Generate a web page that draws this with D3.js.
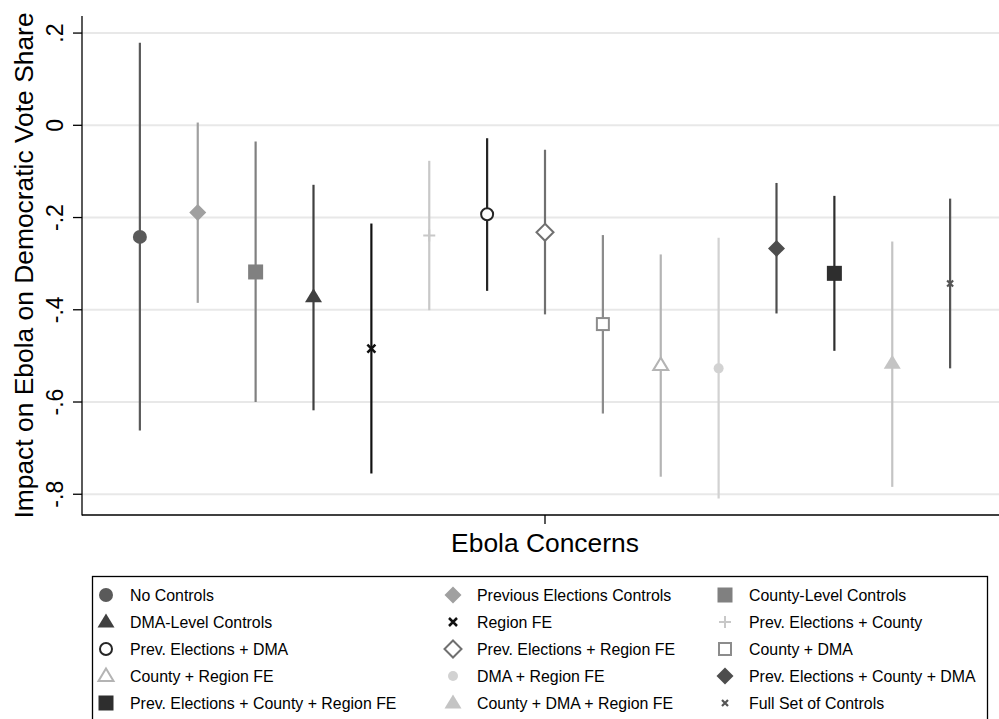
<!DOCTYPE html>
<html>
<head>
<meta charset="utf-8">
<script src="https://cdn.jsdelivr.net/npm/d3@7"></script>
<style>
  body { margin: 0; background: #fff; }
  svg { display: block; font-family: "Liberation Sans", Arial, Helvetica, sans-serif; }
</style>
</head>
<body>
<div id="chart"></div>
<script>
// model specifications, in plotting order
var models = ["No Controls", "Previous Elections Controls", "County-Level Controls",
  "DMA-Level Controls", "Region FE", "Prev. Elections + County",
  "Prev. Elections + DMA", "Prev. Elections + Region FE", "County + DMA",
  "County + Region FE", "DMA + Region FE", "Prev. Elections + County + DMA",
  "Prev. Elections + County + Region FE", "County + DMA + Region FE", "Full Set of Controls"]
// point estimates and 95% CI bounds
var estimates = [-0.242, -0.189, -0.318, -0.372, -0.484, -0.239, -0.193, -0.232,
  -0.431, -0.520, -0.527, -0.267, -0.321, -0.516, -0.343]
var ciLow = [-0.662, -0.385, -0.600, -0.618, -0.755, -0.401, -0.359, -0.410,
  -0.625, -0.762, -0.809, -0.408, -0.489, -0.784, -0.527]
var ciHigh = [0.179, 0.006, -0.035, -0.129, -0.213, -0.077, -0.028, -0.053,
  -0.238, -0.280, -0.244, -0.125, -0.153, -0.252, -0.159]
var yTicks = [0.2, 0, -0.2, -0.4, -0.6, -0.8]
var yTickLabels = [".2", "0", "-.2", "-.4", "-.6", "-.8"]
var xCategory = "Ebola Concerns"

// styling per model
var colors = ["#5a5a5a", "#a0a0a0", "#808080", "#404040", "#111111", "#c8c8c8",
  "#262626", "#707070", "#8c8c8c", "#b4b4b4", "#d2d2d2", "#4d4d4d",
  "#2e2e2e", "#c4c4c4", "#555555"]
var symbols = ["circle", "diamond", "square", "triangle", "x", "plus",
  "circleO", "diamondO", "squareO", "triangleO", "dot", "diamond",
  "square", "triangle", "smallx"]

var width = 999, height = 719
var plot = {left: 82, right: 1008, top: 16, bottom: 515}

var svg = d3.select("#chart").append("svg")
  .attr("width", width)
  .attr("height", height)

var data = models.map(function(m, i) {
  return {name: m, est: estimates[i], lo: ciLow[i], hi: ciHigh[i], color: colors[i], symbol: symbols[i]}
})

var y = d3.scaleLinear().domain([-0.845, 0.237]).range([plot.bottom, plot.top])
var x = d3.scalePoint().domain(models).range([plot.left, plot.right]).padding(1)

// gridlines
svg.append("g").selectAll("line")
  .data(yTicks)
  .enter().append("line")
  .attr("x1", plot.left).attr("x2", width)
  .attr("y1", function(d){ return y(d) }).attr("y2", function(d){ return y(d) })
  .attr("stroke", "#e8e8e8").attr("stroke-width", 2)

// y axis
var yAxis = svg.append("g").attr("transform", "translate(" + plot.left + ",0)")
yAxis.append("line")
  .attr("y1", plot.top).attr("y2", plot.bottom + 0.5)
  .attr("stroke", "#000").attr("stroke-width", 1.3)
yAxis.selectAll(".tick")
  .data(yTicks)
  .enter().append("line")
  .attr("x1", -9).attr("x2", 0)
  .attr("y1", function(d){ return y(d) }).attr("y2", function(d){ return y(d) })
  .attr("stroke", "#000").attr("stroke-width", 1.3)
yAxis.selectAll(".lab")
  .data(yTicks)
  .enter().append("text")
  .attr("transform", function(d){ return "translate(-19," + y(d) + ") rotate(-90)" })
  .attr("text-anchor", "middle")
  .attr("font-size", 23)
  .text(function(d, i){ return yTickLabels[i] })

svg.append("text")
  .attr("transform", "translate(33," + ((plot.top + plot.bottom) / 2) + ") rotate(-90)")
  .attr("text-anchor", "middle")
  .attr("font-size", 26.4)
  .text("Impact on Ebola on Democratic Vote Share")

// x axis
var xMid = (plot.left + plot.right) / 2
svg.append("line")
  .attr("x1", plot.left).attr("x2", width)
  .attr("y1", plot.bottom).attr("y2", plot.bottom)
  .attr("stroke", "#000").attr("stroke-width", 1.3)
svg.append("line")
  .attr("x1", xMid).attr("x2", xMid)
  .attr("y1", plot.bottom).attr("y2", plot.bottom + 9)
  .attr("stroke", "#000").attr("stroke-width", 1.3)
svg.append("text")
  .attr("x", xMid).attr("y", 552)
  .attr("text-anchor", "middle")
  .attr("font-size", 26.4)
  .text(xCategory)

// draws one marker of the given type into g
function marker(g, type, color) {
  var filled = {circle: 1, diamond: 1, square: 1, triangle: 1, dot: 1}
  var p
  if (type == "circle") p = g.append("circle").attr("r", 7)
  else if (type == "dot") p = g.append("circle").attr("r", 5)
  else if (type == "circleO") p = g.append("circle").attr("r", 6)
  else if (type == "diamond") p = g.append("path").attr("d", "M0,-8.5L8.5,0L0,8.5L-8.5,0Z")
  else if (type == "diamondO") p = g.append("path").attr("d", "M0,-8.5L8.5,0L0,8.5L-8.5,0Z")
  else if (type == "square") p = g.append("rect").attr("x", -7.5).attr("y", -7.5).attr("width", 15).attr("height", 15)
  else if (type == "squareO") p = g.append("rect").attr("x", -6).attr("y", -6).attr("width", 12).attr("height", 12)
  else if (type == "triangle") p = g.append("path").attr("d", "M0,-8.5L8.5,5.5L-8.5,5.5Z")
  else if (type == "triangleO") p = g.append("path").attr("d", "M0,-7.5L7.5,5L-7.5,5Z")
  else if (type == "x") p = g.append("path").attr("d", "M-4,-4L4,4M-4,4L4,-4").attr("stroke-width", 2.5)
  else if (type == "smallx") p = g.append("path").attr("d", "M-3,-3L3,3M-3,3L3,-3").attr("stroke-width", 2.2)
  else if (type == "plus") p = g.append("path").attr("d", "M-6,0L6,0M0,-6L0,6").attr("stroke-width", 2)
  if (filled[type]) {
    p.attr("fill", color)
  } else {
    p.attr("fill", type.slice(-1) == "O" ? "#fff" : "none").attr("stroke", color)
    if (type.slice(-1) == "O") p.attr("stroke-width", 2)
  }
}

// confidence intervals
svg.append("g").selectAll("line")
  .data(data)
  .enter().append("line")
  .attr("x1", function(d){ return x(d.name) }).attr("x2", function(d){ return x(d.name) })
  .attr("y1", function(d){ return y(d.lo) }).attr("y2", function(d){ return y(d.hi) })
  .attr("stroke", function(d){ return d.color })
  .attr("stroke-width", 2.2)

// point estimates
svg.append("g").selectAll("g")
  .data(data)
  .enter().append("g")
  .attr("transform", function(d){ return "translate(" + x(d.name) + "," + y(d.est) + ")" })
  .each(function(d){ marker(d3.select(this), d.symbol, d.color) })

// legend
var legend = svg.append("g")
legend.append("rect")
  .attr("x", 92.5).attr("y", 576.5)
  .attr("width", 895).attr("height", 160)
  .attr("fill", "#fff").attr("stroke", "#000").attr("stroke-width", 1.3)

var colX = [106, 453, 725]
var rowY = [595, 622, 649, 676, 703]
var items = legend.selectAll(".item")
  .data(data)
  .enter().append("g")
  .attr("class", "item")
  .attr("transform", function(d, i){ return "translate(" + colX[i % 3] + "," + rowY[Math.floor(i / 3)] + ")" })
items.each(function(d){ marker(d3.select(this), d.symbol, d.color) })
items.append("text")
  .attr("x", 24).attr("y", 0)
  .attr("dy", "0.36em")
  .attr("font-size", 15.9)
  .text(function(d){ return d.name })
</script>
</body>
</html>
